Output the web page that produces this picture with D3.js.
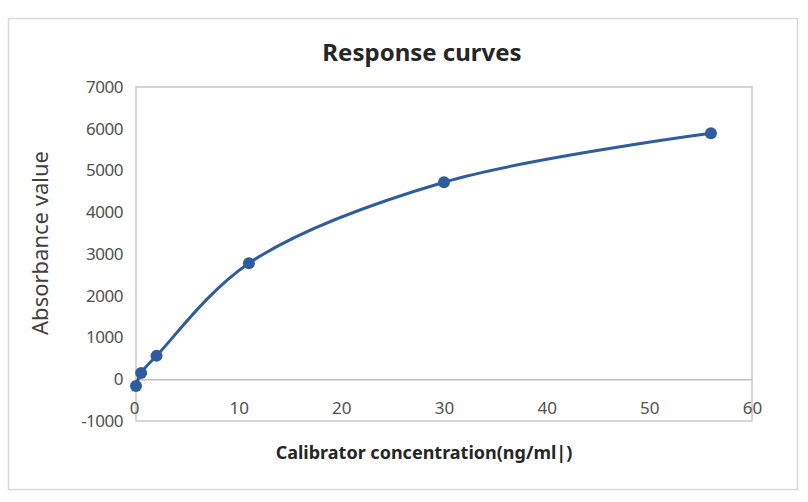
<!DOCTYPE html>
<html><head><meta charset="utf-8">
<script src="https://cdn.jsdelivr.net/npm/d3@7"></script>
<style>body{margin:0;background:#fff;} svg{display:block;}</style>
</head><body>
<svg id="c" width="808" height="502"></svg>
<script>
const concentrations = [0, 0.5, 2, 11, 30, 56];
const absorbance = [-160, 150, 560, 2780, 4720, 5890];
const xTicks = [0, 10, 20, 30, 40, 50, 60];
const yTicks = [-1000, 0, 1000, 2000, 3000, 4000, 5000, 6000, 7000];
const title = "Response curves";
const xTitle = "Calibrator concentration(ng/ml|)";
const yTitle = "Absorbance value";

const svg = d3.select("#c");
const font = "'Noto Sans', 'Open Sans', sans-serif";
svg.append("rect").attr("x", 8.5).attr("y", 18.5).attr("width", 789).attr("height", 471)
  .attr("fill", "#fff").attr("stroke", "#d9d9d9").attr("stroke-width", 1.5);

const L = 136, R = 752, T = 87, B = 421;
const x = d3.scaleLinear().domain([0, 60]).range([L, R]);
const y = d3.scaleLinear().domain([-1000, 7000]).range([B, T]);

svg.append("rect").attr("x", L).attr("y", T).attr("width", R - L).attr("height", B - T)
  .attr("fill", "none").attr("stroke", "#c8c8c8").attr("stroke-width", 1.5);

const fmt = d => (d < 0 ? "-" : "") + Math.abs(d);
const xAxis = d3.axisBottom(x).tickValues(xTicks).tickSize(0).tickPadding(23).tickFormat(fmt);
const gx = svg.append("g").attr("transform", `translate(0,${y(0)})`).call(xAxis);
gx.select(".domain").attr("stroke", "#c0c0c0").attr("stroke-width", 1.5);
gx.selectAll("text").attr("font-family", font).attr("font-size", 17).attr("fill", "#505050");
gx.selectAll(".tick").filter(d => d === 0).select("text").attr("dx", -2);

const yAxis = d3.axisLeft(y).tickValues(yTicks).tickSize(0).tickPadding(13).tickFormat(fmt);
const gy = svg.append("g").attr("transform", `translate(${L},0)`).call(yAxis);
gy.select(".domain").remove();
gy.selectAll("text").attr("font-family", font).attr("font-size", 17).attr("fill", "#505050").attr("letter-spacing", -0.5);

const pts = concentrations.map((c, i) => [c, absorbance[i]]);
const line = d3.line().x(d => x(d[0])).y(d => y(d[1])).curve(d3.curveCatmullRom.alpha(0.5));
svg.append("path").attr("d", line(pts)).attr("fill", "none").attr("stroke", "#2f5c9c").attr("stroke-width", 3);
svg.selectAll("circle.pt").data(pts).enter().append("circle").attr("class", "pt")
  .attr("cx", d => x(d[0])).attr("cy", d => y(d[1])).attr("r", 6).attr("fill", "#2f5c9c");

svg.append("text").attr("x", 422).attr("y", 61).attr("text-anchor", "middle")
  .attr("font-family", font).attr("font-size", 24).attr("font-weight", "bold").attr("fill", "#262626").text(title);
svg.append("text").attr("x", 424).attr("y", 459).attr("text-anchor", "middle")
  .attr("font-family", font).attr("font-size", 18).attr("font-weight", "bold").attr("fill", "#262626").text(xTitle);
svg.append("text").attr("transform", `translate(48,${(T + B) / 2 - 11}) rotate(-90)`).attr("text-anchor", "middle")
  .attr("font-family", font).attr("font-size", 22).attr("fill", "#404040").text(yTitle);
</script>
</body></html>
